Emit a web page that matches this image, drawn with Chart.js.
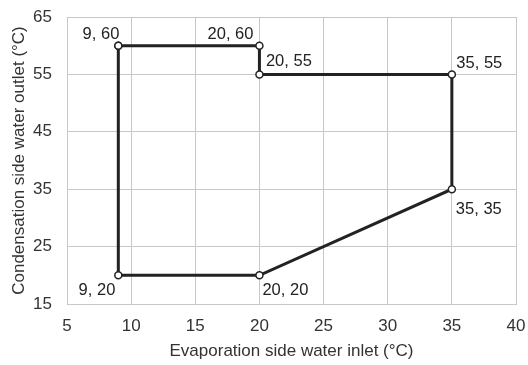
<!DOCTYPE html>
<html>
<head>
<meta charset="utf-8">
<script src="https://cdn.jsdelivr.net/npm/chart.js@4.4.1/dist/chart.umd.min.js"></script>
<style>
  html, body { margin: 0; padding: 0; background: #fff; }
  #wrap { width: 528px; height: 365px; }
</style>
</head>
<body>
<div id="wrap"><canvas id="c" width="528" height="365"></canvas></div>
<script>
// Data (polygon vertices, closed)
const xValues = [9, 20, 20, 35, 35, 20, 9, 9];
const yValues = [60, 60, 55, 55, 35, 20, 20, 60];
const pointLabels = ['9, 60', '20, 60', '20, 55', '35, 55', '35, 35', '20, 20', '9, 20', ''];
const xTicks = [5, 10, 15, 20, 25, 30, 35, 40];
const yTicks = [15, 25, 35, 45, 55, 65];
const xTitle = 'Evaporation side water inlet (°C)';
const yTitle = 'Condensation side water outlet (°C)';

// Label placement styles (pixel offsets relative to point, alphabetic baseline)
const labelStyle = [
  {dx: 1, dy: -7, align: 'right'},
  {dx: -6, dy: -7, align: 'right'},
  {dx: 6.5, dy: -8, align: 'left'},
  {dx: 4.5, dy: -6.5, align: 'left'},
  {dx: 4, dy: 25, align: 'left'},
  {dx: 3, dy: 20, align: 'left'},
  {dx: -3, dy: 20, align: 'right'},
  null
];

const pts = xValues.map((x, i) => ({x: x, y: yValues[i]}));

const labelPlugin = {
  id: 'ptLabels',
  afterDatasetsDraw(chart) {
    const ctx = chart.ctx;
    const xs = chart.scales.x, ys = chart.scales.y;
    ctx.save();
    ctx.font = '16.5px "Liberation Sans", Arial, sans-serif';
    ctx.fillStyle = '#222';
    ctx.textBaseline = 'alphabetic';
    pts.forEach((p, i) => {
      const s = labelStyle[i];
      if (!s || !pointLabels[i]) return;
      const px = xs.getPixelForValue(p.x);
      const py = ys.getPixelForValue(p.y);
      ctx.textAlign = s.align;
      ctx.fillText(pointLabels[i], px + s.dx, py + s.dy);
    });
    ctx.restore();
  }
};

const gridColor = '#c8c8c8';
const tickFont = {family: '"Liberation Sans", Arial, sans-serif', size: 17};
const titleFont = {family: '"Liberation Sans", Arial, sans-serif', size: 17};

new Chart(document.getElementById('c'), {
  type: 'scatter',
  data: {
    datasets: [{
      data: pts,
      showLine: true,
      borderColor: '#222',
      borderWidth: 3,
      pointRadius: 3.5,
      pointHoverRadius: 3.5,
      pointBackgroundColor: '#fff',
      pointBorderColor: '#222',
      pointBorderWidth: 1.5,
      tension: 0,
      fill: false
    }]
  },
  options: {
    responsive: false,
    animation: false,
    devicePixelRatio: 1,
    layout: {padding: 0},
    plugins: {legend: {display: false}, tooltip: {enabled: false}},
    scales: {
      x: {
        type: 'linear',
        min: 5, max: 40,
        afterBuildTicks(scale) { scale.ticks = xTicks.map(v => ({value: v})); },
        afterFit(scale) { scale.height = 61; scale.paddingRight = 12; scale.paddingLeft = 0; },
        ticks: {color: '#333', font: tickFont, padding: 12, maxRotation: 0},
        grid: {color: gridColor, lineWidth: 1, drawTicks: false},
        border: {display: true, color: gridColor, width: 1},
        title: {display: true, text: xTitle, color: '#333', font: titleFont, padding: {top: 0, bottom: 3.3}}
      },
      y: {
        type: 'linear',
        min: 15, max: 65,
        afterBuildTicks(scale) { scale.ticks = yTicks.map(v => ({value: v})); },
        afterFit(scale) { scale.width = 67; scale.paddingTop = 17; scale.paddingBottom = 0; },
        ticks: {color: '#333', font: tickFont, padding: 15},
        grid: {color: gridColor, lineWidth: 1, drawTicks: false},
        border: {display: true, color: gridColor, width: 1},
        title: {display: true, text: yTitle, color: '#333', font: titleFont, padding: {top: 9, bottom: 0}}
      }
    }
  },
  plugins: [labelPlugin]
});
</script>
</body>
</html>
